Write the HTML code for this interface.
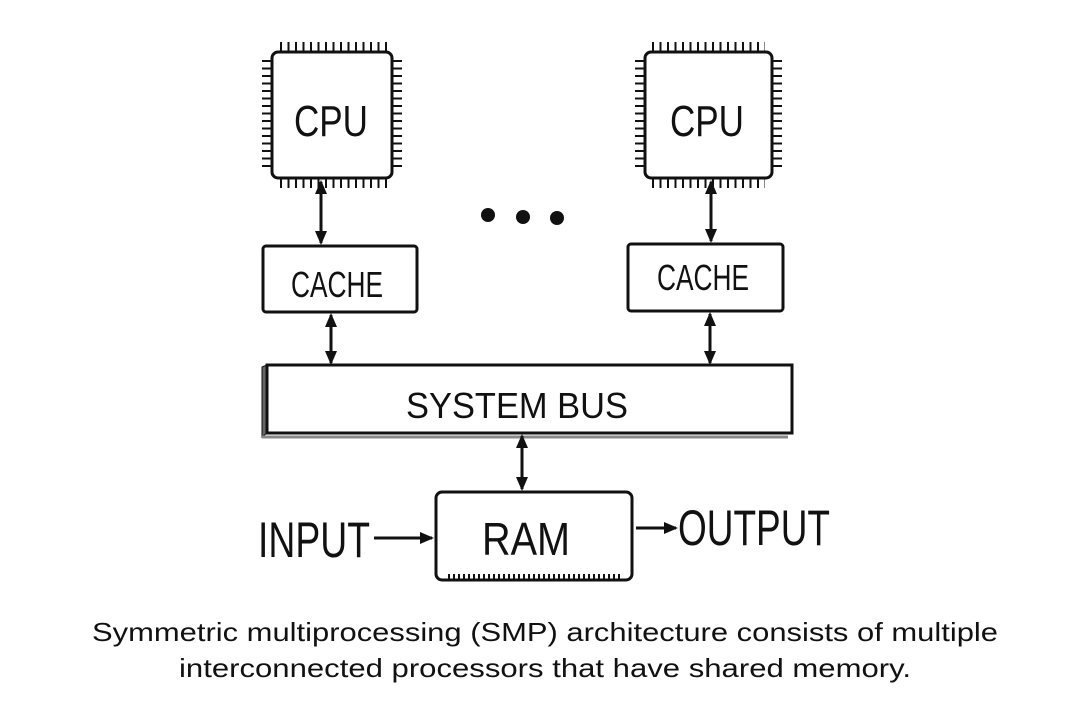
<!DOCTYPE html>
<html><head><meta charset="utf-8"><style>
html,body{margin:0;padding:0;background:#fff;}
svg{display:block;}
text{font-family:"Liberation Sans",sans-serif;fill:#111;}
</style></head><body>
<svg width="1080" height="721" viewBox="0 0 1080 721" xmlns="http://www.w3.org/2000/svg">
<defs>
<marker id="ah" markerWidth="14" markerHeight="14" refX="12" refY="7" orient="auto-start-reverse" markerUnits="userSpaceOnUse">
<path d="M0,1 L14,7 L0,13 z" fill="#111"/>
</marker>
</defs>
<g stroke="#111" fill="none">
<line x1="280" y1="47" x2="388" y2="47" stroke-width="10" stroke-dasharray="2 5.5"/>
<line x1="280" y1="183" x2="388" y2="183" stroke-width="10" stroke-dasharray="2 5.5"/>
<line x1="267" y1="60" x2="267" y2="172" stroke-width="10" stroke-dasharray="2 5.5"/>
<line x1="397" y1="60" x2="397" y2="172" stroke-width="10" stroke-dasharray="2 5.5"/>
<rect x="272" y="52" width="120" height="126" rx="6" fill="#fff" stroke-width="3"/>
<line x1="652" y1="47" x2="765" y2="47" stroke-width="10" stroke-dasharray="2 5.5"/>
<line x1="652" y1="183" x2="765" y2="183" stroke-width="10" stroke-dasharray="2 5.5"/>
<line x1="640" y1="60" x2="640" y2="172" stroke-width="10" stroke-dasharray="2 5.5"/>
<line x1="777" y1="60" x2="777" y2="172" stroke-width="10" stroke-dasharray="2 5.5"/>
<rect x="645" y="52" width="127" height="126" rx="6" fill="#fff" stroke-width="3"/>
<rect x="263" y="246" width="154" height="66" rx="3" stroke-width="3"/>
<rect x="628" y="244" width="155" height="67" rx="3" stroke-width="3"/>
<path d="M262,367 L267,365 L267,433 L262,437 Z" fill="#666" stroke-width="1"/>
<path d="M262,437 L788,437" stroke="#888" stroke-width="3"/>
<rect x="267" y="365" width="525" height="68" stroke-width="3"/>
<rect x="436" y="492" width="196" height="88" rx="6" stroke-width="3"/>
<line x1="448" y1="577" x2="620" y2="577" stroke-width="6" stroke-dasharray="2 3"/>
<g stroke-width="3" marker-start="url(#ah)" marker-end="url(#ah)">
<line x1="321" y1="182" x2="321" y2="243"/>
<line x1="711" y1="182" x2="711" y2="241"/>
<line x1="331" y1="315" x2="331" y2="363"/>
<line x1="710" y1="314" x2="710" y2="363"/>
<line x1="522" y1="436" x2="522" y2="489"/>
</g>
<line x1="374" y1="538" x2="432" y2="538" stroke-width="3" marker-end="url(#ah)"/>
<line x1="636" y1="528" x2="676" y2="528" stroke-width="3" marker-end="url(#ah)"/>
</g>
<g fill="#111">
<circle cx="488" cy="215" r="7"/><circle cx="523" cy="217" r="7"/><circle cx="557" cy="218" r="7"/>
</g>
<text x="331" y="136" font-size="44" text-anchor="middle" textLength="74" lengthAdjust="spacingAndGlyphs">CPU</text>
<text x="707" y="136" font-size="44" text-anchor="middle" textLength="74" lengthAdjust="spacingAndGlyphs">CPU</text>
<text x="337" y="297" font-size="36" text-anchor="middle" textLength="92" lengthAdjust="spacingAndGlyphs">CACHE</text>
<text x="703" y="290" font-size="36" text-anchor="middle" textLength="92" lengthAdjust="spacingAndGlyphs">CACHE</text>
<text x="517" y="418" font-size="36" text-anchor="middle" textLength="222" lengthAdjust="spacingAndGlyphs">SYSTEM BUS</text>
<text x="526" y="555" font-size="46" text-anchor="middle" textLength="88" lengthAdjust="spacingAndGlyphs">RAM</text>
<text x="258" y="557" font-size="50" textLength="112" lengthAdjust="spacingAndGlyphs">INPUT</text>
<text x="678" y="545" font-size="50" textLength="152" lengthAdjust="spacingAndGlyphs">OUTPUT</text>
<text x="545" y="641" font-size="26" text-anchor="middle" textLength="906" lengthAdjust="spacingAndGlyphs">Symmetric multiprocessing (SMP) architecture consists of multiple</text>
<text x="545" y="677" font-size="26" text-anchor="middle" textLength="732" lengthAdjust="spacingAndGlyphs">interconnected processors that have shared memory.</text>
</svg>
</body></html>
